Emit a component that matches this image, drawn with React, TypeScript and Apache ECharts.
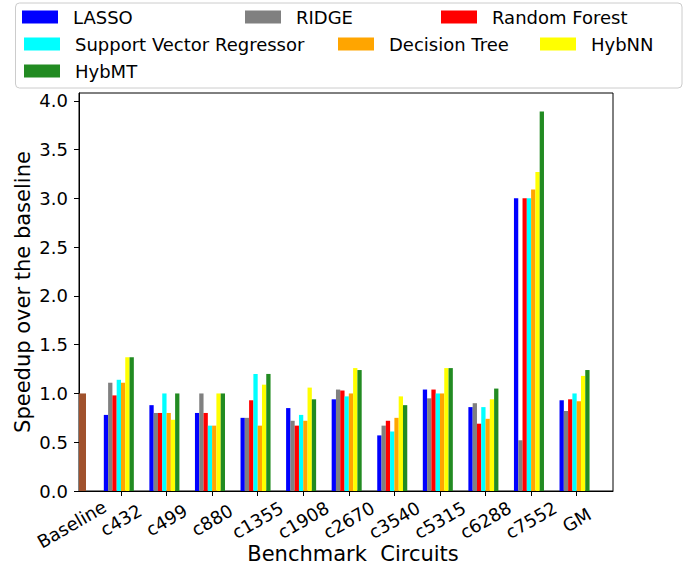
import React, { useEffect, useRef } from "react";
import * as echarts from "echarts";

// ---------- data ----------
const categories = ["Baseline", "c432", "c499", "c880", "c1355", "c1908", "c2670", "c3540", "c5315", "c6288", "c7552", "GM"];
const baselineValue = 1.0;
const lasso = [0.78, 0.88, 0.80, 0.75, 0.85, 0.94, 0.57, 1.04, 0.86, 3.00, 0.93];
const ridge = [1.11, 0.80, 1.00, 0.75, 0.72, 1.04, 0.67, 0.95, 0.90, 0.52, 0.82];
const randomForest = [0.98, 0.80, 0.80, 0.93, 0.67, 1.03, 0.72, 1.04, 0.69, 3.00, 0.94];
const svr = [1.14, 1.00, 0.67, 1.20, 0.78, 0.97, 0.61, 1.00, 0.86, 3.00, 1.00];
const decisionTree = [1.11, 0.80, 0.67, 0.67, 0.72, 1.00, 0.75, 1.00, 0.74, 3.09, 0.92];
const hybNN = [1.37, 0.73, 1.00, 1.09, 1.06, 1.26, 0.97, 1.26, 0.94, 3.27, 1.18];
const hybMT = [1.37, 1.00, 1.00, 1.20, 0.94, 1.24, 0.88, 1.26, 1.05, 3.89, 1.24];
const seriesNames = ["LASSO", "RIDGE", "Random Forest", "Support Vector Regressor", "Decision Tree", "HybNN", "HybMT"];
const seriesValues = [lasso, ridge, randomForest, svr, decisionTree, hybNN, hybMT];
const yTicks = [0, 0.5, 1.0, 1.5, 2.0, 2.5, 3.0, 3.5, 4.0];

// ---------- styles / layout ----------
const seriesColors = ["#0000ff", "#808080", "#ff0000", "#00ffff", "#ffa500", "#ffff00", "#228b22"];
const baselineColor = "#a0522d";
const FONT = "DejaVu Sans";
const TICK_FS = 18;
const LABEL_FS = 21;
const X_MIN = 0.079;
const X_MAX = 11.797;
const Y_MAX = 4.08;
const BAR_W = 0.0941; // in category units
const BAR_PX = 4.3;
const BASE_X = 0.156;
const BASE_PX = 7;
const legendLayout = [
  { left: 22, top: 17 },
  { left: 245, top: 17 },
  { left: 441, top: 17 },
  { left: 24, top: 44 },
  { left: 338, top: 44 },
  { left: 540, top: 44 },
  { left: 24, top: 71 },
];

export default function App() {
  const ref = useRef<HTMLDivElement>(null);

  useEffect(() => {
    if (!ref.current) return;
    const chart = echarts.init(ref.current, undefined, { renderer: "svg" });
    const tickVals = categories.map((_, i) => i).filter((i) => i > 0);
    const labelVals = [X_MIN, ...tickVals];

    const barSeries = seriesNames.map((name, i) => ({
      name,
      type: "bar",
      xAxisIndex: 0,
      yAxisIndex: 0,
      barWidth: BAR_PX,
      barGap: "-100%",
      itemStyle: { color: seriesColors[i] },
      data: seriesValues[i].map((v, j) => [j + 1 + (i - 3.5) * BAR_W, v]),
    }));

    const legends = seriesNames.map((name, i) => ({
      data: [{ name, icon: "rect" }],
      left: legendLayout[i].left,
      top: legendLayout[i].top - 10,
      padding: 0,
      itemWidth: 36,
      itemHeight: 13,
      selectedMode: false,
      textStyle: {
        fontFamily: FONT,
        fontSize: TICK_FS,
        color: "#000",
        lineHeight: 20,
        padding: [0, 0, 0, 10],
      },
    }));

    chart.setOption({
      animation: false,
      backgroundColor: "#fff",
      textStyle: { fontFamily: FONT },
      graphic: [
        {
          type: "rect",
          z: 0,
          shape: { x: 15.5, y: 3, width: 666.5, height: 85, r: 4 },
          style: { fill: "rgba(255,255,255,0.8)", stroke: "#cccccc", lineWidth: 1 },
        },
      ],
      legend: legends,
      grid: {
        left: 79,
        right: 80,
        top: 93,
        bottom: 80,
        show: true,
        borderColor: "#000",
        borderWidth: 1,
        backgroundColor: "transparent",
        containLabel: false,
        outerBoundsMode: "none",
      },
      xAxis: [
        {
          type: "value",
          min: X_MIN,
          max: X_MAX,
          splitLine: { show: false },
          axisLine: { show: true, lineStyle: { color: "#000", width: 1 } },
          axisTick: { show: true, customValues: tickVals, length: 5, lineStyle: { color: "#000" } },
          axisLabel: {
            customValues: labelVals,
            rotate: 30,
            align: "center",
            verticalAlign: "middle",
            margin: 29,
            fontFamily: FONT,
            fontSize: TICK_FS,
            color: "#000",
            formatter: (v: number) => {
              const idx = Math.round(v);
              if (idx === 0) return "{b|Baseline}";
              return categories[idx];
            },
            rich: {
              b: { fontFamily: FONT, fontSize: TICK_FS, color: "#000", padding: [0, 17, 0, 0] },
            },
          },
          name: "Benchmark  Circuits",
          nameLocation: "middle",
          nameGap: 52,
          nameMoveOverlap: false,
          nameTextStyle: { fontFamily: FONT, fontSize: LABEL_FS, color: "#000", padding: [0, 0, 0, 14] },
        },
        {
          type: "value",
          min: X_MIN,
          max: X_MAX,
          show: false,
        },
      ],
      yAxis: {
        type: "value",
        min: 0,
        max: Y_MAX,
        splitLine: { show: false },
        axisLine: { show: true, lineStyle: { color: "#000", width: 1 } },
        axisTick: { show: true, customValues: yTicks, length: 5, lineStyle: { color: "#000" } },
        axisLabel: {
          customValues: yTicks,
          margin: 11,
          fontFamily: FONT,
          fontSize: TICK_FS,
          color: "#000",
          formatter: (v: number) => v.toFixed(1),
        },
        name: "Speedup over the baseline",
        nameLocation: "middle",
        nameGap: 46,
        nameMoveOverlap: false,
        nameTextStyle: { fontFamily: FONT, fontSize: LABEL_FS, color: "#000" },
      },
      series: [
        ...barSeries,
        {
          name: "Baseline",
          type: "bar",
          xAxisIndex: 1,
          yAxisIndex: 0,
          barWidth: BASE_PX,
          itemStyle: { color: baselineColor },
          data: [[BASE_X, baselineValue]],
        },
      ],
    });

    return () => chart.dispose();
  }, []);

  return (
    <div
      ref={ref}
      style={{ position: "fixed", left: 0, top: 0, width: 693, height: 571 }}
    />
  );
}
